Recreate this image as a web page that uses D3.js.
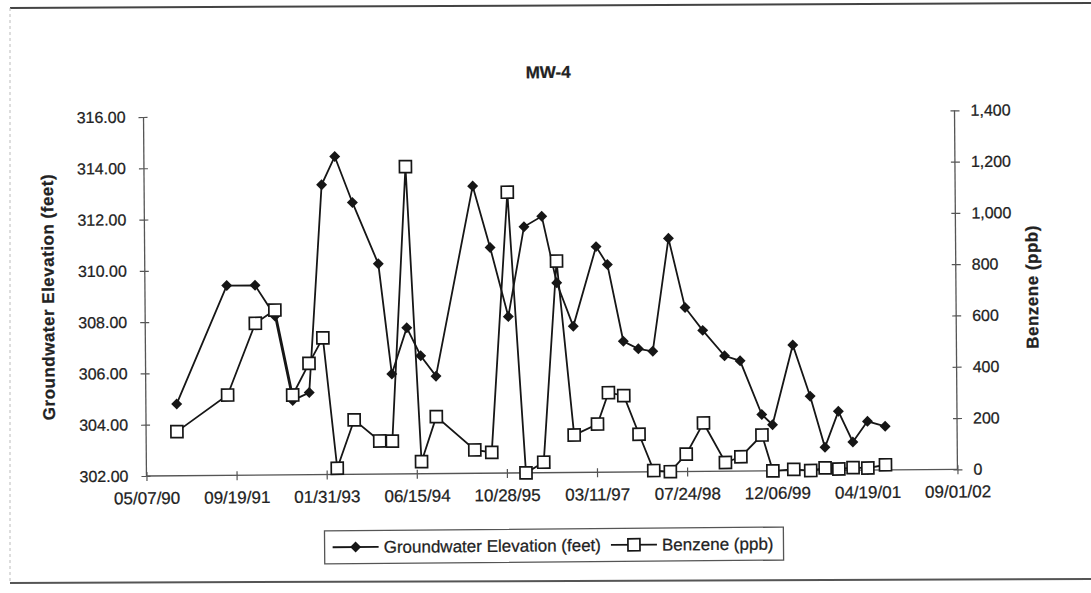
<!DOCTYPE html>
<html><head><meta charset="utf-8">
<script src="https://cdn.jsdelivr.net/npm/d3@7"></script>
<style>
body{margin:0;background:#fff;}
svg{display:block;font-family:"Liberation Sans",Arial,Helvetica,sans-serif;}
svg text{stroke:#222;stroke-width:0.25px;}
</style>
</head><body>
<svg id="chart" width="1091" height="593"></svg>
<script>
// ---------------- DATA ----------------
const chartTitle = "MW-4";
const sampleDates = ["10/25/90","08/04/91","01/08/92","04/26/92","07/30/92","10/30/92","01/16/93","03/31/93",
  "07/05/93","11/23/93","02/01/94","04/27/94","07/12/94","10/04/94","05/04/95","08/06/95","11/12/95",
  "02/11/96","05/20/96","08/08/96","11/06/96","03/16/97","05/17/97","08/10/97","11/01/97","01/20/98",
  "04/22/98","07/20/98","10/25/98","02/22/99","05/19/99","09/14/99","11/12/99","03/07/00","06/09/00",
  "08/28/00","11/12/00","01/30/01","04/22/01","07/29/01"];
const groundwaterFeet = [304.8,309.4,309.4,308.2,304.9,305.2,313.3,314.4,312.6,310.2,305.9,307.7,306.6,305.8,
  313.2,310.8,308.1,311.6,312.0,309.4,307.7,310.8,310.1,307.1,306.8,306.7,311.1,308.4,307.5,306.5,306.3,
  304.2,303.8,306.9,304.9,302.9,304.3,303.1,303.9,303.7];
const benzenePpb = [172,313,592,643,311,434,533,24,212,129,128,1198,47,222,91,81,1095,0,41,825,146,188,310,
  298,147,5,0,68,189,34,56,140,0,5,0,10,5,10,8,20];
const xTickLabels = ["05/07/90","09/19/91","01/31/93","06/15/94","10/28/95","03/11/97","07/24/98","12/06/99","04/19/01","09/01/02"];
const leftTicks = [302,304,306,308,310,312,314,316];
const rightTicks = [0,200,400,600,800,1000,1200,1400];
const leftTitle = "Groundwater Elevation (feet)";
const rightTitle = "Benzene (ppb)";
const legendLabels = ["Groundwater Elevation (feet)","Benzene (ppb)"];

// ---------------- LAYOUT ----------------
const W = 1091, H = 593;
const plot = {left:145, right:956, top:113.7, bottom:472.7};
const parse = d3.timeParse("%m/%d/%y");
const fmtDate = d3.timeFormat("%m/%d/%y");
const tickDates = xTickLabels.map(parse);
const rows = sampleDates.map((d,i)=>({date:parse(d), gw:groundwaterFeet[i], bz:benzenePpb[i]}));

const x = d3.scaleTime().domain([tickDates[0], tickDates[tickDates.length-1]]).range([plot.left, plot.right]);
const yL = d3.scaleLinear().domain([302,316]).range([plot.bottom, plot.top]);
const yR = d3.scaleLinear().domain([0,1400]).range([plot.bottom, plot.top]);

const svg = d3.select("#chart");
svg.append("rect").attr("width",W).attr("height",H).attr("fill","#fff");

// outer frame (scanned page border)
svg.append("line").attr("x1",10).attr("x2",W).attr("y1",8).attr("y2",3).attr("stroke","#444").attr("stroke-width",2);
svg.append("line").attr("x1",10).attr("x2",W).attr("y1",583).attr("y2",579).attr("stroke","#555").attr("stroke-width",2);
svg.append("line").attr("x1",10).attr("x2",10).attr("y1",8).attr("y2",583).attr("stroke","#bbb").attr("stroke-width",1).attr("stroke-dasharray","3,3");

const g = svg.append("g").attr("transform","rotate(-0.47,545,296)");

// title
g.append("text").attr("x",550).attr("y",78).attr("text-anchor","middle")
  .attr("font-size",17).attr("font-weight","bold").attr("fill","#222").text(chartTitle);

const axisColor = "#555";
// left axis
const gl = g.append("g").attr("transform",`translate(${plot.left},0)`);
gl.call(d3.axisLeft(yL).tickValues(leftTicks).tickFormat(d3.format(".2f")).tickSize(5).tickPadding(13));
gl.append("g").call(d3.axisRight(yL).tickValues(leftTicks).tickFormat("").tickSize(4)).select(".domain").remove();
// right axis
const gr = g.append("g").attr("transform",`translate(${plot.right},0)`);
gr.call(d3.axisRight(yR).tickValues(rightTicks).tickFormat(d3.format(",")).tickSize(5).tickPadding(11));
gr.append("g").call(d3.axisLeft(yR).tickValues(rightTicks).tickFormat("").tickSize(4)).select(".domain").remove();
// bottom axis
const gb = g.append("g").attr("transform",`translate(0,${plot.bottom})`);
gb.call(d3.axisBottom(x).tickValues(tickDates).tickFormat(fmtDate).tickSize(5).tickPadding(11));
gb.append("g").call(d3.axisTop(x).tickValues(tickDates).tickFormat("").tickSize(4)).select(".domain").remove();

[gl,gr,gb].forEach(a=>{
  a.selectAll(".domain").attr("stroke",axisColor).attr("stroke-width",1.3);
  a.selectAll("line").attr("stroke",axisColor).attr("stroke-width",1.2);
  a.selectAll("text").attr("font-size",16).attr("fill","#222").attr("font-family",null);
});
gb.selectAll("text").attr("font-size",17);
gl.select(".domain").attr("d",`M0,${plot.top}V${plot.bottom}`);
gr.select(".domain").attr("d",`M0,${plot.top}V${plot.bottom}`);
gb.select(".domain").attr("d",`M${plot.left},0H${plot.right}`);

// axis titles
g.append("text").attr("transform",`translate(48,293) rotate(-90)`).attr("text-anchor","middle").attr("dy","0.35em")
  .attr("font-size",17).attr("letter-spacing",0.5).attr("font-weight","bold").attr("fill","#222").text(leftTitle);
g.append("text").attr("transform",`translate(1032,291) rotate(-90)`).attr("text-anchor","middle").attr("dy","0.35em")
  .attr("font-size",17).attr("letter-spacing",0.5).attr("font-weight","bold").attr("fill","#222").text(rightTitle);

// series
const lineCol = "#161616";
const gwLine = d3.line().x(d=>x(d.date)).y(d=>yL(d.gw));
const bzLine = d3.line().x(d=>x(d.date)).y(d=>yR(d.bz));
g.append("path").datum(rows).attr("d",bzLine).attr("fill","none").attr("stroke",lineCol).attr("stroke-width",1.8);
g.append("path").datum(rows).attr("d",gwLine).attr("fill","none").attr("stroke",lineCol).attr("stroke-width",1.8);

const diamondPath = d3.symbol().type(d3.symbolSquare).size(60);
g.selectAll(".gw").data(rows).join("path").attr("class","gw")
  .attr("transform",d=>`translate(${x(d.date)},${yL(d.gw)}) rotate(45)`)
  .attr("d",diamondPath).attr("fill",lineCol);
g.selectAll(".bz").data(rows).join("rect").attr("class","bz")
  .attr("x",d=>x(d.date)-6).attr("y",d=>yR(d.bz)-6).attr("width",12).attr("height",12)
  .attr("fill","#fff").attr("stroke",lineCol).attr("stroke-width",1.7);

// legend
const lg = g.append("g");
let cx = 8;
legendLabels.forEach((lab,i)=>{
  const ig = lg.append("g").attr("transform",`translate(${cx},0)`);
  ig.append("line").attr("x1",0).attr("x2",46).attr("y1",0).attr("y2",0).attr("stroke",lineCol).attr("stroke-width",1.8);
  if(i===0){
    ig.append("path").attr("transform","translate(23,0) rotate(45)").attr("d",diamondPath).attr("fill",lineCol);
  } else {
    ig.append("rect").attr("x",17).attr("y",-6).attr("width",12).attr("height",12).attr("fill","#fff").attr("stroke",lineCol).attr("stroke-width",1.7);
  }
  const t = ig.append("text").attr("x",51).attr("y",0).attr("dy","0.35em").attr("font-size",17).attr("fill","#222").text(lab);
  cx += 51 + t.node().getComputedTextLength() + 10;
});
const lgW = cx;
const lgH = 33;
lg.insert("rect",":first-child").attr("x",0).attr("y",-lgH/2).attr("width",lgW).attr("height",lgH)
  .attr("fill","#fff").attr("stroke","#555").attr("stroke-width",1.3);
lg.attr("transform",`translate(${552-lgW/2},545.5)`);
</script>
</body></html>
